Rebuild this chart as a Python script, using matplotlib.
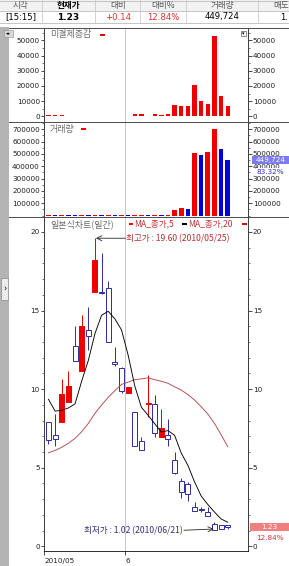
import matplotlib as mpl
mpl.use('Agg')
import matplotlib.pyplot as plt
from matplotlib.patches import Rectangle
from matplotlib.lines import Line2D
from matplotlib.ticker import MultipleLocator, FixedLocator

KR = ['Noto Sans CJK KR', 'DejaVu Sans']

# daily candles 2010/05/13 .. 2010/06/23
dates = ['2010/05/13', '2010/05/14', '2010/05/17', '2010/05/18', '2010/05/19', '2010/05/20',
         '2010/05/24', '2010/05/25', '2010/05/26', '2010/05/27', '2010/05/28', '2010/05/31',
         '2010/06/01', '2010/06/03', '2010/06/04', '2010/06/07', '2010/06/08', '2010/06/09',
         '2010/06/10', '2010/06/11', '2010/06/14', '2010/06/15', '2010/06/16', '2010/06/17',
         '2010/06/18', '2010/06/21', '2010/06/22', '2010/06/23']
opens  = [7.89, 7.08, 7.89, 9.20, 12.76, 11.15, 13.76, 16.16, 16.20, 16.41, 11.72, 11.32, 9.77, 8.52,
          6.68, 9.08, 9.03, 6.93, 7.10, 5.49, 4.15, 3.94, 2.52, 2.37, 2.20, 1.40, 1.36, 1.36]
highs  = [7.92, 8.40, 10.62, 11.17, 14.02, 14.71, 15.20, 19.60, 18.64, 16.90, 12.70, 11.40, 10.15, 8.52,
          6.97, 10.90, 9.60, 8.71, 8.12, 6.00, 4.33, 4.11, 2.80, 2.52, 2.52, 1.55, 1.38, 1.37]
lows   = [6.50, 6.40, 7.89, 9.20, 11.79, 11.15, 12.50, 16.16, 16.05, 13.00, 11.45, 9.77, 9.77, 6.40,
          6.13, 8.25, 6.97, 6.93, 6.40, 4.60, 3.08, 2.88, 2.26, 2.20, 1.95, 1.02, 1.08, 1.10]
closes = [6.76, 6.85, 9.69, 10.22, 11.79, 14.01, 13.40, 18.21, 16.10, 13.02, 11.62, 9.90, 10.15, 6.40,
          6.15, 9.12, 7.19, 7.50, 6.85, 4.64, 3.47, 3.31, 2.26, 2.33, 1.95, 1.05, 1.09, 1.23]
ma5  = [9.35, 8.60, 8.65, 8.80, 9.06, 10.51, 11.82, 13.53, 14.70, 14.95, 14.47, 13.77, 12.16, 10.20,
        8.84, 8.34, 7.80, 7.27, 7.36, 7.06, 5.93, 5.15, 4.10, 3.20, 2.66, 2.18, 1.74, 1.53]
ma20 = [5.95, 6.10, 6.30, 6.55, 6.87, 7.29, 7.82, 8.46, 8.99, 9.48, 9.90, 10.30, 10.45, 10.60,
        10.65, 10.72, 10.60, 10.50, 10.37, 10.15, 9.94, 9.65, 9.31, 8.88, 8.42, 7.82, 7.10, 6.34]
volume = [4000, 2500, 6000, 4000, 3000, 5000, 2000, 4000, 3000, 5000, 2000, 3000, 2000, 4000,
          6000, 3000, 5000, 2000, 4000, 45000, 59000, 51000, 505000, 491000, 518000, 700000, 539750, 449724]
oi_change = [1000, 600, 600, 0, 0, 0, 0, 0, 0, 0, 0, 0, 0, 1700, 1700, 0, 1300, 900, 1700,
             7600, 6500, 7000, 20600, 9800, 8000, 52800, 13300, 7000]

quote_time = '[15:15]'
ask_price = '1.'

RED = '#ee0000'
BLUE = '#0000e0'
CANDLE_BLUE = '#3232a0'
MA20_COLOR = '#b04848'

W, H = 289, 566
fig = plt.figure(figsize=(W / 72, H / 72), dpi=72)
fig.patch.set_facecolor('white')

def fx(x): return x / W
def fy(y): return 1 - y / H

def box(x0, y0, x1, y1, **kw):
    fig.add_artist(Rectangle((fx(x0), fy(y1)), (x1 - x0) / W, (y1 - y0) / H,
                             transform=fig.transFigure, **kw))

def hline(x0, x1, y, **kw):
    fig.add_artist(Line2D([fx(x0), fx(x1)], [fy(y), fy(y)], transform=fig.transFigure, **kw))

def vline(x, y0, y1, **kw):
    fig.add_artist(Line2D([fx(x), fx(x)], [fy(y0), fy(y1)], transform=fig.transFigure, **kw))

def txt(x, y, s, **kw):
    kw.setdefault('va', 'center')
    return fig.text(fx(x), fy(y), s, **kw)

# ---- header table ----
box(0, 0, 289, 11, fc='#f2f2f2', ec='none')
for y in (0.5, 11, 23):
    hline(0, 289, y, color='#b8b8b8', lw=0.8)
for x in (42, 95, 140, 186, 258):
    vline(x, 0, 23, color='#c8c8c8', lw=0.8)
txt(21, 5.5, '시각', ha='center', fontsize=8.5, color='#555555', family=KR)
txt(68, 5.5, '현재가', ha='center', fontsize=8.5, color='black', weight='bold', family=KR)
txt(118, 5.5, '대비', ha='center', fontsize=8.5, color='#555555', family=KR)
txt(163, 5.5, '대비%', ha='center', fontsize=8.5, color='#555555', family=KR)
txt(222, 5.5, '거래량', ha='center', fontsize=8.5, color='#555555', family=KR)
txt(281, 5.5, '매도', ha='center', fontsize=8.5, color='#555555', family=KR)

chg = closes[-1] - closes[-2]
pct = chg / closes[-2] * 100
txt(21, 17, quote_time, ha='center', fontsize=8.5, color='black')
txt(68, 17, f'{closes[-1]:.2f}', ha='center', fontsize=9, color='black', weight='bold')
txt(118, 17, f'{chg:+.2f}', ha='center', fontsize=8.5, color='#e03030')
txt(163, 17, f'{pct:.2f}%', ha='center', fontsize=8.5, color='#e03030')
txt(222, 17, f'{volume[-1]:,}', ha='center', fontsize=8.5, color='black')
txt(280, 17, ask_price, ha='left', fontsize=8.5, color='black')

# ---- frame pieces ----
box(0, 27, 8.5, 566, fc='#b4b4b4', ec='none')
box(4, 30, 13, 37, fc='#d8d8d8', ec='#909090', lw=0.6)
txt(8.5, 33.5, '◂▸', ha='center', fontsize=5, color='black')
box(1, 278, 8, 300, fc='#ececec', ec='#808080', lw=0.6)
txt(4.5, 289, '›', ha='center', fontsize=8, color='black')

L, R = 44.3, 248.3
ax1 = fig.add_axes([fx(L), fy(122), (R - L) / W, (122 - 28) / H])
ax2 = fig.add_axes([fx(L), fy(217), (R - L) / W, (217 - 122) / H])
ax3 = fig.add_axes([fx(L), fy(550.7), (R - L) / W, (550.7 - 217) / H])

idx = list(range(len(dates)))
june_start = next(i for i, d in enumerate(dates) if d[5:7] == '06')
divider = june_start - 0.4
xlim = (-0.63, 30.1)

for ax in (ax1, ax2, ax3):
    ax.set_xlim(*xlim)
    ax.axvline(divider, color='#c8c8c8', lw=1, zorder=0)
    for side in ('left', 'right'):
        ax.spines[side].set_color('#404040')
        ax.spines[side].set_linewidth(1)
    ax.spines['top'].set_visible(False)
    ax.spines['bottom'].set_visible(False)
    ax.yaxis.set_ticks_position('both')
    ax.tick_params(axis='y', which='both', direction='out', left=True, right=True,
                   labelleft=True, labelright=True, labelsize=7.3, pad=1, colors='#202020')
    ax.tick_params(axis='y', which='major', length=3.5, width=0.8)
    ax.tick_params(axis='y', which='minor', length=2, width=0.6)
for ax in (ax1, ax2):
    ax.set_xticks([])

# open interest change
ax1.set_ylim(-3750, 58100)
ax1.bar(idx, oi_change, width=0.66, color=RED, zorder=2)
ax1.yaxis.set_major_locator(FixedLocator([0, 10000, 20000, 30000, 40000, 50000]))
ax1.yaxis.set_minor_locator(MultipleLocator(5000))
ax1.spines['top'].set_visible(True)
ax1.spines['top'].set_color('#404040')

# volume
vol_colors = [RED if i == 0 or volume[i] >= volume[i - 1] else BLUE for i in idx]
ax2.set_ylim(-11350, 759100)
ax2.bar(idx, volume, width=0.7, color=vol_colors, zorder=2)
ax2.yaxis.set_major_locator(FixedLocator([100000, 200000, 300000, 400000, 500000, 600000, 700000]))
ax2.yaxis.set_minor_locator(MultipleLocator(50000))

# candles
ax3.set_ylim(-0.28, 20.95)
for i in idx:
    o, h, l, c = opens[i], highs[i], lows[i], closes[i]
    up = c >= o
    col = RED if up else CANDLE_BLUE
    ax3.vlines(i, l, h, color=col, lw=1, zorder=2)
    bottom = min(o, c)
    height = max(abs(c - o), 0.02)
    ax3.bar(i, height, bottom=bottom, width=0.75, color=RED if up else 'white',
            edgecolor=col, linewidth=1, zorder=3)
ax3.plot(idx, ma20, color=MA20_COLOR, lw=0.9, zorder=4)
ax3.plot(idx, ma5, color='black', lw=0.9, zorder=4)
ax3.yaxis.set_major_locator(FixedLocator([0, 5, 10, 15, 20]))
ax3.yaxis.set_minor_locator(MultipleLocator(1))
ax3.spines['bottom'].set_visible(True)
ax3.spines['bottom'].set_color('black')
ax3.set_xticks([xlim[0], divider])
ax3.set_xticklabels(['2010/05', '6'])
ax3.tick_params(axis='x', direction='out', length=4, width=0.8, labelsize=7.3, pad=3, colors='#202020')
for lbl in ax3.get_xticklabels():
    lbl.set_ha('left')

hi_i = max(idx, key=lambda i: highs[i])
lo_i = min(idx, key=lambda i: lows[i])
ax3.annotate('', xy=(hi_i + 0.15, highs[hi_i]), xytext=(hi_i + 4.6, highs[hi_i]),
             arrowprops=dict(arrowstyle='->,head_length=0.5,head_width=0.25', lw=0.8,
                             color='#202020', shrinkA=0, shrinkB=0))
ax3.text(hi_i + 4.75, highs[hi_i], f'최고가 : {highs[hi_i]:.2f} ({dates[hi_i]})', color='#b03030',
         fontsize=8.6, va='center', family=KR)
ax3.annotate('', xy=(lo_i - 0.1, lows[lo_i] + 0.08), xytext=(lo_i - 4.6, lows[lo_i]),
             arrowprops=dict(arrowstyle='->,head_length=0.5,head_width=0.25', lw=0.8,
                             color='#202020', shrinkA=0, shrinkB=0))
ax3.text(lo_i - 4.75, lows[lo_i], f'최저가 : {lows[lo_i]:.2f} ({dates[lo_i]})', color='#303080',
         fontsize=8.6, va='center', ha='right', family=KR)

# separators
for y in (27.5, 122, 217):
    hline(8.5, 289, y, color='#505050', lw=1)

# panel legends
txt(50, 34.5, '미결제증감', ha='left', fontsize=9, color='#6a6a6a', family=KR)
box(100, 33.8, 105, 35.6, fc=RED, ec='none')
txt(50, 129, '거래량', ha='left', fontsize=9, color='#6a6a6a', family=KR)
box(81, 128.2, 86, 130, fc=RED, ec='none')
txt(50, 224, '일본식차트(일간)', ha='left', fontsize=9, color='#6a6a6a', family=KR)
box(128.5, 223.2, 133, 225, fc=RED, ec='none')
txt(134.5, 224, 'MA_종가,5', ha='left', fontsize=8.5, color='#c03030', family=KR)
box(182, 223.2, 187, 225, fc='black', ec='none')
txt(188.5, 224, 'MA_종가,20', ha='left', fontsize=8.5, color='#c03030', family=KR)
box(242, 223.2, 247, 225, fc=RED, ec='none')

# right side value tags
def fig_y(ax, v):
    return fig.transFigure.inverted().transform(ax.transData.transform((0, v)))[1]

yv = fig_y(ax2, volume[-1])
fig.add_artist(Rectangle((fx(251.5), yv - 4.2 / H), (289 - 251.5) / W, 8.4 / H, transform=fig.transFigure,
                         fc='#7b7bf0', ec='none', zorder=5))
fig.text(fx(270.5), yv, f'{volume[-1]:,}', ha='center', va='center', fontsize=7.3, color='white', zorder=6)
fig.text(fx(270.5), yv - 12 / H, f'{volume[-1] / volume[-2] * 100:.2f}%', ha='center', va='center',
         fontsize=7.3, color='#3030d0', zorder=6,
         bbox=dict(boxstyle='square,pad=0.1', fc='white', ec='none'))

yp = fig_y(ax3, closes[-1])
fig.add_artist(Rectangle((fx(250), yp - 4.2 / H), (289 - 250) / W, 8.4 / H, transform=fig.transFigure,
                         fc='#f08080', ec='none', zorder=5))
fig.text(fx(269.5), yp, f'{closes[-1]:.2f}', ha='center', va='center', fontsize=7.3, color='white', zorder=6)
fig.text(fx(269.5), yp - 11.5 / H, f'{pct:.2f}%', ha='center', va='center', fontsize=7.3,
         color='#e03030', zorder=6, bbox=dict(boxstyle='square,pad=0.1', fc='white', ec='none'))

# small corner icon
box(240.5, 30.5, 246, 36, fc='white', ec='#404040', lw=0.6)
txt(243.3, 33.3, '▾', ha='center', fontsize=5, color='black')

fig.savefig('out.png', dpi=72)
